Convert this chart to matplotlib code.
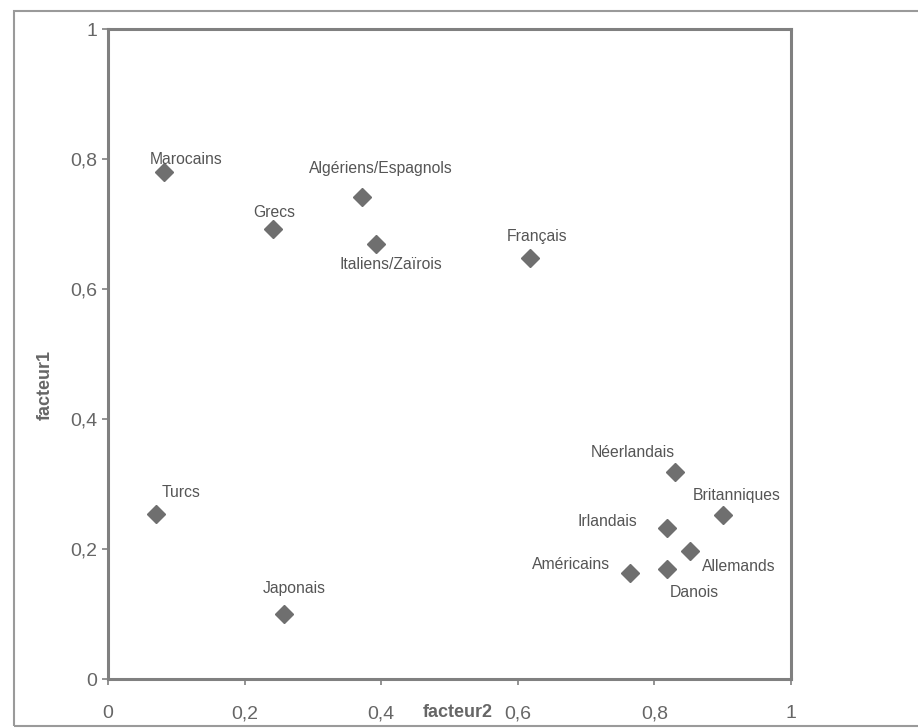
import matplotlib
matplotlib.use("Agg")
import matplotlib.pyplot as plt
from matplotlib.patches import Rectangle

# Data
pays = ["Marocains", "Algériens/Espagnols", "Grecs", "Italiens/Zaïrois", "Français",
        "Turcs", "Japonais", "Néerlandais", "Britanniques", "Irlandais",
        "Allemands", "Danois", "Américains"]
facteur2 = [0.082, 0.372, 0.241, 0.393, 0.618, 0.070, 0.258, 0.830, 0.901, 0.818,
            0.852, 0.819, 0.764]
facteur1 = [0.780, 0.742, 0.693, 0.670, 0.647, 0.254, 0.100, 0.319, 0.252, 0.233,
            0.197, 0.169, 0.163]
x_ticks = [0, 0.2, 0.4, 0.6, 0.8, 1]
x_tick_labels = ["0", "0,2", "0,4", "0,6", "0,8", "1"]
y_ticks = [0, 0.2, 0.4, 0.6, 0.8, 1]
y_tick_labels = ["0", "0,2", "0,4", "0,6", "0,8", "1"]

# label offsets from each marker, in pixels (dx right, dy up)
label_offsets = [(22, 13), (19, 28), (2, 16), (14, -21), (7, 22),
                 (25, 21), (10, 26), (-42, 19), (13, 20), (-59, 6),
                 (49, -16), (27, -23), (-59, 9)]

plt.rcParams['font.family'] = ['Liberation Sans', 'DejaVu Sans']

W, H = 918, 728
fig = plt.figure(figsize=(W / 100, H / 100), dpi=100)
fig.patch.set_facecolor("white")

# outer frame of the scanned page
fig.patches.append(Rectangle((14 / W, 1 - 726 / H), 1.2, (726 - 11) / H,
                             transform=fig.transFigure, fill=False,
                             edgecolor="#9a9a9a", linewidth=1.5))

ax = fig.add_axes([108 / W, 1 - 679 / H, (791 - 108) / W, 650 / H])
ax.plot(facteur2, facteur1, linestyle="none", marker="D", markersize=9.5,
        color="#6f6f6f")

for name, x, y, (dx, dy) in zip(pays, facteur2, facteur1, label_offsets):
    ax.annotate(name, (x, y), xytext=(dx * 0.72, dy * 0.72),
                textcoords="offset points", ha="center", va="center",
                fontsize=11.3, color="#555555")

ax.set_xlim(0, 1)
ax.set_ylim(0, 1)
ax.set_xticks(x_ticks)
ax.set_xticklabels(x_tick_labels)
ax.set_yticks(y_ticks)
ax.set_yticklabels(y_tick_labels)
ax.tick_params(direction="out", length=4, width=1.2, color="#808080",
               labelcolor="#666666", labelsize=14)
ax.tick_params(axis="x", pad=15)
ax.tick_params(axis="y", pad=4)

for s in ax.spines.values():
    s.set_color("#808080")
    s.set_linewidth(2.2)

ax.set_xlabel("facteur2", fontsize=13, fontweight="bold", color="#666666")
ax.xaxis.set_label_coords(0.512, -0.039)
ax.set_ylabel("facteur1", fontsize=13, fontweight="bold", color="#666666")
ax.yaxis.set_label_coords(-0.080, 0.452)

fig.savefig("out.png", dpi=100)
